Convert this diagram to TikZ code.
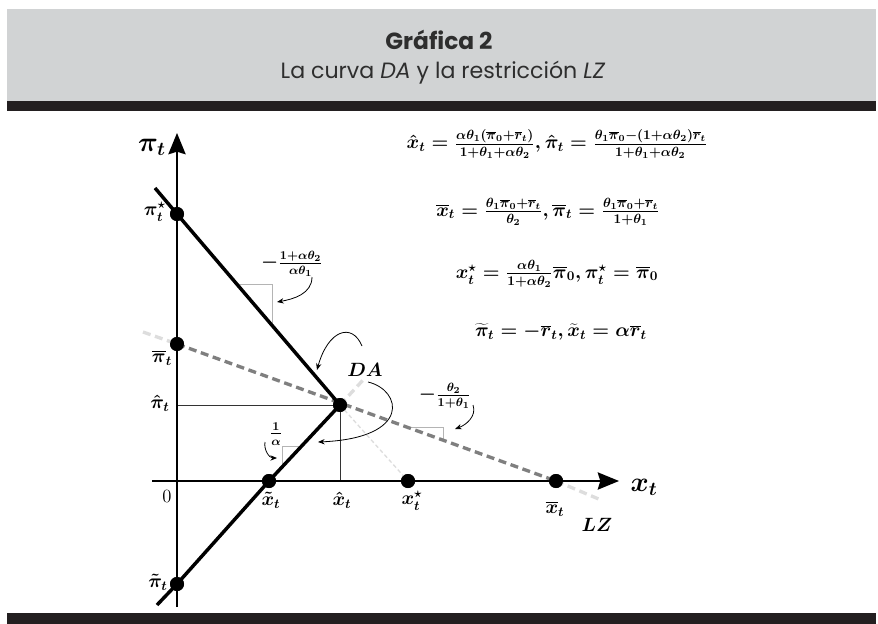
\documentclass[tikz,border=0pt]{standalone}
\usepackage{fontspec}
\newfontfamily\pop{Poppins}
\usetikzlibrary{arrows.meta}
\definecolor{band}{HTML}{D1D3D4}
\definecolor{bar}{HTML}{231F20}
\definecolor{ttl}{HTML}{2E2E2E}
\definecolor{lzdark}{HTML}{7F7F7F}
\definecolor{lzlight}{HTML}{DDDDDD}
\definecolor{tri}{HTML}{B4B4B4}
\tikzset{
  dot/.style={circle,fill=black,inner sep=0pt,minimum size=10.5pt},
  axisline/.style={line width=1.3pt,-{Stealth[length=16pt,width=13pt,inset=2pt]}},
  daline/.style={line width=2.6pt},
  lzline/.style={line width=2.5pt,lzdark,dash pattern=on 6pt off 3.5pt},
  lzext/.style={line width=2.5pt,lzlight,dash pattern=on 6pt off 3.5pt},
  thinext/.style={line width=1pt,lzlight,dash pattern=on 3pt off 2pt},
  proj/.style={line width=0.6pt,black!80},
  slopetri/.style={line width=0.5pt,tri},
  curvarrow/.style={line width=0.6pt,-{Stealth[length=5pt,width=4pt]}},
  ptlabel/.style={font=\fontsize{14.5}{16}\selectfont\boldmath,inner sep=0pt},
  biglabel/.style={font=\fontsize{21}{24}\selectfont\boldmath,inner sep=0pt},
  eqn/.style={font=\fontsize{14.2}{16}\selectfont\boldmath,inner sep=0pt},
  slopelabel/.style={font=\fontsize{13.5}{15}\selectfont\boldmath,inner sep=0pt}
}
\begin{document}
\begin{tikzpicture}[x=0.75pt,y=-0.75pt]
\useasboundingbox (0,0) rectangle (878,624);
% header and footer bands
\fill[band] (7,9) rectangle (876,101);
\fill[bar] (7,101) rectangle (876,111);
\fill[bar] (7,613) rectangle (876,624);
\node[font=\pop\bfseries\fontsize{17.5}{20}\selectfont,text=ttl] (title) at (439,40) {Gráfica 2};
\node[font=\pop\fontsize{16.6}{19}\selectfont,text=ttl] (subtitle) at (443,73) {La curva \textit{DA} y la restricción \textit{LZ}};

% points
\coordinate (yb) at (177,607);
\coordinate (yt) at (177,133);
\coordinate (xl) at (152,481);
\coordinate (xr) at (619,481);
\coordinate (DAtop) at (155,188);
\coordinate (DAbot) at (157,605);
\coordinate (LZl) at (143,332);
\coordinate (LZr) at (601,500);
\coordinate (Kext) at (364,379);
\coordinate (pihat) at (177,405);
\coordinate (xhat) at (340,481);

\node[dot] (pstar) at (177,214) {};
\node[dot] (pbar) at (177,344) {};
\node[dot] (K) at (340,405) {};
\node[dot] (xtil) at (269,481) {};
\node[dot] (xstar) at (408,481) {};
\node[dot] (xbar) at (556,481) {};
\node[dot] (ptil) at (177,584) {};

% slope triangles
\draw[slopetri] (237,284) -- (272,284) -- (272,323);
\draw[slopetri] (302,446) -- (282,446) -- (282,467);
\draw[slopetri] (407,427) -- (443,427) -- (443,440);

% projections
\draw[proj] (pihat) -- (K.center) -- (xhat);

% light extensions
\draw[lzext] (LZl) -- (pbar.center);
\draw[lzext] (xbar.center) -- (LZr);
\draw[lzext] (K.center) -- (Kext);
\draw[thinext] (K.center) -- (xstar.center);

% axes
\draw[axisline] (yb) -- (yt);
\draw[axisline] (xl) -- (xr);

% LZ
\draw[lzline] (pbar.center) -- (xbar.center);

% DA
\draw[daline] (DAtop) -- (pstar.center) -- (K.center);
\draw[daline] (K.center) -- (xtil.center) -- (ptil.center) -- (DAbot);

% redraw dots on top
\foreach \p in {pstar,pbar,K,xtil,xstar,xbar,ptil}
  \fill (\p.center) circle[radius=5.25pt];

% axis labels
\node[biglabel] (pit) at (152,147) {$\pi_t$};
\node[biglabel] (xt) at (644,487) {$x_t$};

% point labels
\node[ptlabel] (lpstar) at (155,212) {$\pi^\star_t$};
\node[ptlabel] (lpbar) at (162,358) {$\overline{\pi}_t$};
\node[ptlabel] (lphat) at (160,403) {$\hat{\pi}_t$};
\node[font=\fontsize{14}{16}\selectfont,inner sep=0pt] (lzero) at (167,496) {0};
\node[ptlabel] (lptil) at (158,582) {$\tilde{\pi}_t$};
\node[ptlabel] (lxtil) at (271,500) {$\tilde{x}_t$};
\node[ptlabel] (lxhat) at (342,500) {$\hat{x}_t$};
\node[ptlabel] (lxstar) at (412,501) {$x^\star_t$};
\node[ptlabel] (lxbar) at (555,509) {$\overline{x}_t$};
\node[ptlabel,font=\fontsize{15}{17}\selectfont\boldmath] (lLZ) at (597,525) {$LZ$};
\node[ptlabel,font=\fontsize{15.5}{17}\selectfont\boldmath] (lDA) at (365,370) {$DA$};

% slope labels
\node[slopelabel] (s1) at (292,264) {$-\frac{1+\alpha\theta_2}{\alpha\theta_1}$};
\node[slopelabel] (s2) at (276,434) {$\frac{1}{\alpha}$};
\node[slopelabel] (s3) at (445,396) {$-\frac{\theta_2}{1+\theta_1}$};

% curved arrows
\draw[curvarrow] (312,277) to[out=-90,in=10] (277,302);
\draw[curvarrow] (362,346) .. controls (352,322) and (328,330) .. (317,370);
\draw[curvarrow] (368,382) .. controls (402,390) and (412,438) .. (318,442);
\draw[curvarrow] (265,442) to[out=-100,in=180] (277,458);
\draw[curvarrow] (473,405) to[out=-70,in=20] (455,429);

% equations
\node[eqn] (e1) at (557,144) {$\hat{x}_t=\frac{\alpha\theta_1(\overline{\pi}_0+\overline{r}_t)}{1+\theta_1+\alpha\theta_2},\hat{\pi}_t=\frac{\theta_1\overline{\pi}_0-(1+\alpha\theta_2)\overline{r}_t}{1+\theta_1+\alpha\theta_2}$};
\node[eqn] (e2) at (548,212) {$\overline{x}_t=\frac{\theta_1\overline{\pi}_0+\overline{r}_t}{\theta_2},\overline{\pi}_t=\frac{\theta_1\overline{\pi}_0+\overline{r}_t}{1+\theta_1}$};
\node[eqn] (e3) at (557,274) {$x^\star_t=\frac{\alpha\theta_1}{1+\alpha\theta_2}\overline{\pi}_0,\pi^\star_t=\overline{\pi}_0$};
\node[eqn] (e4) at (561,332) {$\widetilde{\pi}_t=-\overline{r}_t,\widetilde{x}_t=\alpha\overline{r}_t$};
\end{tikzpicture}
\end{document}
